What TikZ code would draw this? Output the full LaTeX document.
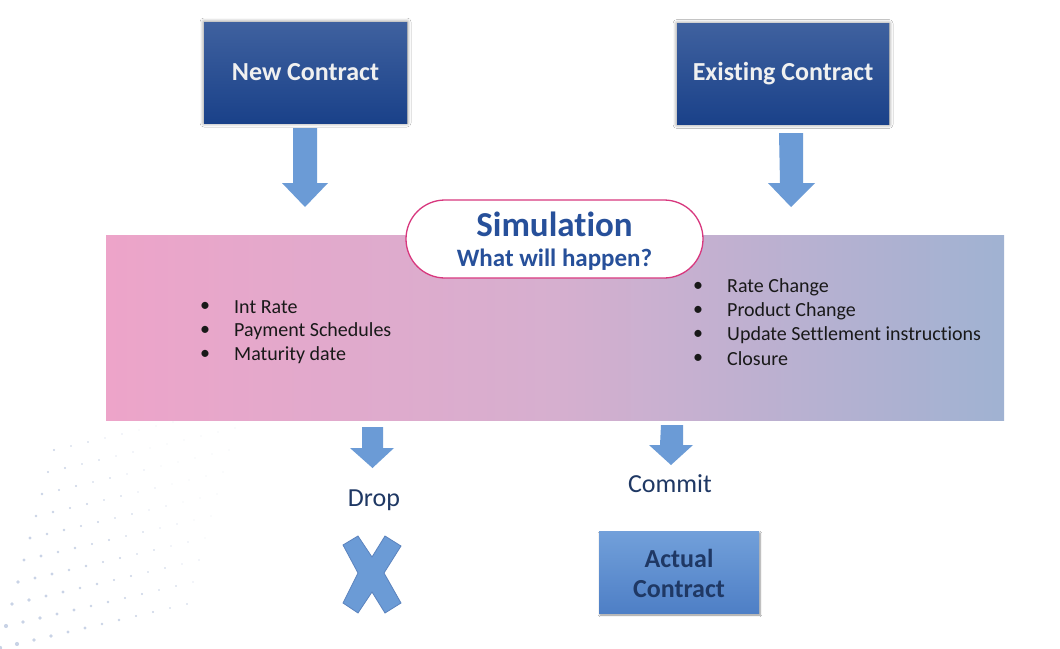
\documentclass[tikz,border=0pt]{standalone}
\usepackage{fontspec}
\setmainfont{Carlito}[Ligatures=NoCommon]
\usetikzlibrary{shadows.blur,shapes.misc}
\definecolor{topA}{HTML}{3F619F}
\definecolor{topB}{HTML}{1A4189}
\definecolor{arrowblue}{HTML}{6B9BD6}
\definecolor{arrowedge}{HTML}{5B83BE}
\definecolor{bandL}{HTML}{EDA4C9}
\definecolor{bandM}{HTML}{D6AFCF}
\definecolor{bandR}{HTML}{A0B2D2}
\definecolor{pillborder}{HTML}{D8387E}
\definecolor{simblue}{HTML}{27509A}
\definecolor{navy}{HTML}{1F3864}
\definecolor{actA}{HTML}{72A0DA}
\definecolor{actB}{HTML}{4E7FC6}
\definecolor{dotc}{HTML}{C9D3E6}
\tikzset{
  topbox/.style={rectangle, minimum width=#1, minimum height=101pt, top color=topA, bottom color=topB, draw=none,
    blur shadow={shadow blur steps=8, shadow xshift=0pt, shadow yshift=0pt, shadow blur radius=4pt, shadow opacity=50},
    text=white!94!black, font=\fontsize{26}{30}\selectfont\bfseries},
  fatarrow/.style={fill=arrowblue, draw=none},
  bullet/.style={anchor=west, font=\fontsize{20}{24}\selectfont, text=black!90, inner sep=0pt},
  lbl/.style={font=\fontsize{26}{30}\selectfont, text=navy},
}
\begin{document}
\begin{tikzpicture}[x=1pt,y=-1pt]
\useasboundingbox (0,0) rectangle (1060,648);
\fill[white] (0,0) rectangle (1060,648);
% faint background dots
\foreach \i in {0,...,11}{
  \foreach \j in {0,...,9}{
    \pgfmathsetmacro{\px}{\i*17+\j*6}
    \pgfmathsetmacro{\py}{648-\j*22-\i*4}
    \pgfmathsetmacro{\rr}{max(0.4,2.2-0.13*\i-0.12*\j)}
    \fill[dotc] (\px,\py) circle (\rr);
  }
}
% top boxes
\node[topbox=203pt] (new) at (305.5,72.5) {New Contract};
\node[topbox=212pt] (exist) at (783,74) {Existing Contract};
% arrows down from boxes
\fill[fatarrow] (293,128) -- ++(24,0) -- ++(0,55) -- ++(11,0) -- (305,207) -- ++(-23,-24) -- ++(11,0) -- cycle;
\fill[fatarrow] (779,133) -- ++(24,0) -- ++(0,50) -- ++(12,0) -- (791,207) -- ++(-23,-24) -- ++(12,0) -- cycle;
% band
\shade[left color=bandL, right color=bandR, middle color=bandM] (106,235) rectangle (1004,420);
\node[minimum width=898pt, minimum height=185pt, inner sep=0pt] (band) at (555,327.5) {};
% simulation pill
\node[rounded rectangle, draw=pillborder, line width=1.3pt, fill=white, minimum width=297pt, minimum height=78pt, inner sep=0pt] (sim) at (554.5,239) {};
\node[text=simblue, font=\fontsize{35}{38}\selectfont\bfseries, inner sep=0pt] (simt) at (554.5,224) {Simulation};
\node[text=simblue, font=\fontsize{25}{28}\selectfont\bfseries, inner sep=0pt] (simq) at (554.5,260) {What will happen?};
% bullets left
\foreach \t/\y [count=\k] in {Int Rate/307, Payment Schedules/331, Maturity date/355}{
  \node[bullet] (lb\k) at (200,\y) {•};
  \node[bullet] (lt\k) at (234,\y) {\t};
}
% bullets right
\foreach \t/\y [count=\k] in {Rate Change/287, Product Change/311, Update Settlement instructions/335, Closure/359}{
  \node[bullet] (rb\k) at (693,\y) {•};
  \node[bullet] (rt\k) at (727,\y) {\t};
}
% bottom arrows
\fill[fatarrow] (362,427) -- ++(21,0) -- ++(0,21) -- ++(11,0) -- (372.5,468) -- ++(-22.5,-20) -- ++(12,0) -- cycle;
\fill[fatarrow] (661,425) -- ++(22,0) -- ++(0,20) -- ++(10,0) -- (671,465) -- ++(-22,-20) -- ++(11,0) -- cycle;
\node[lbl] (drop) at (374,500) {Drop};
\node[lbl] (commit) at (670,484) {Commit};
% X mark
\filldraw[fill=arrowblue, draw=arrowedge, line width=0.8pt]
 (343,545) -- (358,536) -- (372,557) -- (385,536) -- (401,546) -- (384,573) -- (401,603) -- (385,613) -- (372,592) -- (358,613) -- (343,603) -- (358,573) -- cycle;
\node[minimum width=58pt, minimum height=77pt] (xmark) at (372,574) {};
% actual contract
\node[rectangle, minimum width=160pt, minimum height=82pt, top color=actA, bottom color=actB, inner sep=0pt,
  blur shadow={shadow blur steps=6, shadow xshift=1pt, shadow yshift=-2pt, shadow opacity=45}] (actual) at (679,572) {};
\node[text=navy, font=\fontsize{26}{30}\selectfont\bfseries, inner sep=0pt] (act1) at (679,558) {Actual};
\node[text=navy, font=\fontsize{26}{30}\selectfont\bfseries, inner sep=0pt] (act2) at (679,589) {Contract};
\end{tikzpicture}
\end{document}
